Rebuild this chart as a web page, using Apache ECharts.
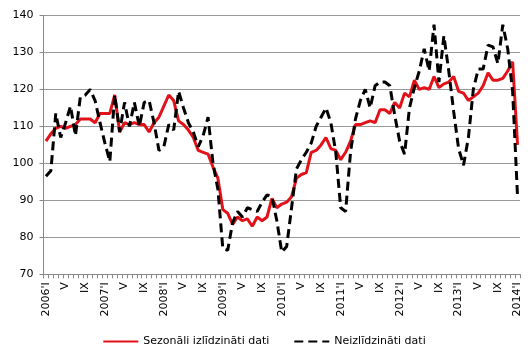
<!DOCTYPE html>
<html>
<head>
<meta charset="utf-8">
<script src="https://cdn.jsdelivr.net/npm/echarts@6/dist/echarts.min.js"></script>
<style>html,body{margin:0;padding:0;background:#fff;}#c{width:528px;height:359px;}</style>
</head>
<body>
<div id="c"></div>
<script>
// Tick label parts
const years = [2006, 2007, 2008, 2009, 2010, 2011, 2012, 2013, 2014];
const romanMonths = ['I','II','III','IV','V','VI','VII','VIII','IX','X','XI','XII'];
// Categories: monthly, 2006'I .. 2014'I
const categories = [];
years.forEach(function (y) {
  romanMonths.forEach(function (m, i) {
    if (y === 2014 && i > 0) return;
    categories.push(i === 0 ? (y + "'" + m) : m);
  });
});

const seasonallyAdjusted = [
  106, 108, 109.5, 110, 109.5, 110, 110.5, 112, 112, 112, 111, 113.5,
  113.5, 113.5, 118.5, 108.5, 111, 110.5, 111, 110.5, 110.5, 108.5, 111, 112.5,
  115.5, 118.5, 117, 111.5, 110.5, 109, 107, 103.5, 103, 102.5, 99, 96,
  87.5, 86.5, 83.5, 85.5, 84.5, 85, 83, 85.5, 84.5, 85.5, 90.5, 88,
  89, 89.5, 91, 96, 97, 97.5, 103, 103.5, 105, 107, 104, 103.5,
  101, 103, 106, 110.5, 110.5, 111, 111.5, 111, 114.5, 114.5, 113.5, 116.5,
  115, 119, 118, 122.5, 120, 120.5, 120, 123.5, 120.5, 121.5, 122, 123.5,
  119.5, 119, 117, 118, 119, 121, 124.5, 122.5, 122.5, 123, 125, 127.5,
  105
];

const notAdjusted = [
  96.5, 98, 113.5, 107, 111, 115.5, 107.5, 118, 118.5, 120, 117, 111,
  105.5, 100.5, 118.5, 108.5, 116.5, 110, 116.5, 110, 116.5, 117, 111, 103.5,
  104.5, 110.5, 109, 119.5, 115, 111, 108.5, 104.5, 107.5, 112.5, 100, 93,
  77, 76.5, 84, 87, 85.5, 88, 87.5, 87, 89.5, 91.5, 91, 84.5,
  76, 77.5, 88, 98.5, 101, 103, 105.5, 110, 112.5, 115, 111, 103,
  88, 87, 103, 112, 117, 120, 115, 121, 122, 122, 121, 113,
  106, 102.5, 115, 120.5, 125, 131, 125, 137.5, 122, 134.5, 125, 114,
  104, 99.5, 107, 120, 125.5, 125.5, 132, 131.5, 127, 137.5, 131, 119.5,
  91
];

const seriesNames = ['Sezonāli izlīdzināti dati', 'Neizlīdzināti dati'];
const yTicks = { min: 70, max: 140, step: 10 };

const font = 'DejaVu Sans';
const chart = echarts.init(document.getElementById('c'), null, { renderer: 'canvas' });
chart.setOption({
  animation: false,
  backgroundColor: '#fff',
  grid: { left: 43.5, right: 8, top: 15.5, bottom: 84.7, containLabel: false },
  legend: {
    orient: 'horizontal',
    top: 331,
    left: 'center',
    itemWidth: 35,
    itemHeight: 14,
    itemGap: 24,
    itemStyle: { opacity: 0 },
    textStyle: { fontFamily: font, fontSize: 11, color: '#000' },
    data: seriesNames
  },
  xAxis: {
    type: 'category',
    data: categories,
    boundaryGap: true,
    axisLine: { lineStyle: { color: '#888', width: 1 } },
    axisTick: { show: true, interval: 0, length: 4, lineStyle: { color: '#888' } },
    axisLabel: {
      interval: function (index) { return index % 4 === 0; },
      rotate: 90,
      margin: 8,
      fontFamily: font,
      fontSize: 11,
      color: '#000'
    },
    splitLine: { show: false }
  },
  yAxis: {
    type: 'value',
    min: yTicks.min,
    max: yTicks.max,
    interval: yTicks.step,
    axisLine: { show: true, lineStyle: { color: '#888', width: 1 } },
    axisTick: { show: true, length: 4, lineStyle: { color: '#888' } },
    axisLabel: { margin: 10, fontFamily: font, fontSize: 11, color: '#000' },
    splitLine: { show: true, lineStyle: { color: '#999', width: 1 } }
  },
  series: [
    {
      name: seriesNames[0],
      type: 'line',
      data: seasonallyAdjusted,
      symbol: 'none',
      lineStyle: { color: '#e2121b', width: 3 },
      itemStyle: { color: '#e2121b' },
      z: 2
    },
    {
      name: seriesNames[1],
      type: 'line',
      data: notAdjusted,
      symbol: 'none',
      lineStyle: { color: '#000', width: 3, type: [9, 5] },
      itemStyle: { color: '#000' },
      z: 3
    }
  ]
});
</script>
</body>
</html>
